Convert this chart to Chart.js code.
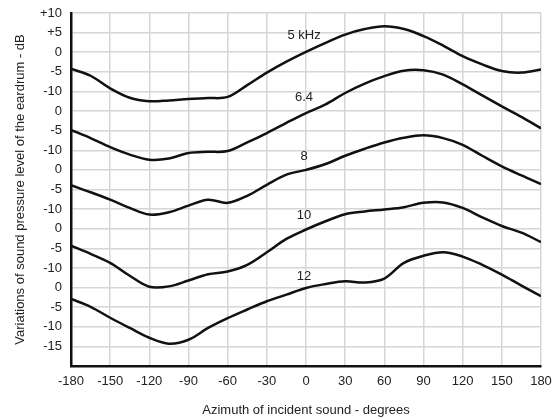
<!DOCTYPE html>
<html>
<head>
<meta charset="utf-8">
<script src="https://cdn.jsdelivr.net/npm/chart.js@4/dist/chart.umd.min.js"></script>
<style>
  html, body { margin: 0; padding: 0; background: #fff; }
  #c { display: block; }
</style>
</head>
<body>
<canvas id="c" width="553" height="419"></canvas>
<script>
// Azimuth of incident sound (degrees)
const azimuth = [-180,-165,-150,-135,-120,-105,-90,-75,-60,-45,-30,-15,0,15,30,45,60,75,90,105,120,135,150,165,180];

// Variation of sound pressure level (dB) for each frequency
const khz5  = [-4.2,-6.0,-9.2,-11.6,-12.5,-12.3,-11.9,-11.7,-11.4,-8.4,-5.2,-2.4,0.1,2.4,4.5,5.9,6.6,5.9,4.1,1.7,-1.0,-3.1,-4.8,-5.2,-4.4];
const khz64 = [-4.8,-6.9,-9.2,-11.1,-12.4,-12.1,-10.7,-10.4,-10.2,-8.0,-5.6,-3.0,-0.5,1.7,4.6,7.0,8.9,10.3,10.4,9.3,6.8,4.0,1.2,-1.5,-4.4];
const khz8  = [-3.9,-5.7,-7.6,-9.7,-11.4,-10.8,-9.1,-7.6,-8.4,-6.6,-3.8,-1.2,0.0,1.5,3.6,5.4,7.0,8.2,8.8,8.1,6.4,3.6,0.9,-1.4,-3.6];
const khz10 = [-4.3,-6.4,-8.7,-12.0,-14.8,-14.7,-13.2,-11.6,-10.9,-9.2,-6.0,-2.6,-0.2,1.9,3.7,4.4,4.9,5.5,6.6,6.7,5.3,2.9,0.7,-1.0,-3.4];
const khz12 = [-2.9,-4.9,-7.7,-10.3,-12.8,-14.3,-13.3,-10.3,-7.8,-5.6,-3.5,-1.8,-0.1,0.9,1.6,1.3,2.3,6.3,8.1,9.0,7.9,5.8,3.3,0.5,-2.2];

const seriesValues = [khz5, khz64, khz8, khz10, khz12];
const seriesNames  = ['5 kHz', '6.4', '8', '10', '12'];
// each curve is shifted down by this many dB on the shared axis
const seriesOffsets = [0, -15, -30, -45, -60];
// curve label position (azimuth, dB relative to own curve zero)
const labelAzimuth = [-1.5, -1.5, -1.5, -1.5, -1.5];
const labelDb      = [4.2, 3.6, 3.5, 3.4, 2.9];

// y tick labels from top (+10) to bottom
const yTickLabels = ['+10','+5','0','-5','-10','0','-5','-10','0','-5','-10','0','-5','-10','0','-5','-10','-15',''];
const xTicks = [-180,-150,-120,-90,-60,-30,0,30,60,90,120,150,180];

const FONT = '"Liberation Sans", Arial, Helvetica, sans-serif';
const TEXT = '#222';

const datasets = seriesValues.map((vals, k) => ({
  label: seriesNames[k],
  data: vals.map((v, i) => ({ x: azimuth[i], y: v + seriesOffsets[k] })),
  borderColor: '#111',
  borderWidth: 2.5,
  pointRadius: 0,
  fill: false,
  tension: 0.35
}));

const curveLabels = {
  id: 'curveLabels',
  afterDatasetsDraw(chart) {
    const { ctx, scales: { x, y } } = chart;
    ctx.save();
    ctx.font = '13px ' + FONT;
    ctx.fillStyle = TEXT;
    ctx.textAlign = 'center';
    ctx.textBaseline = 'middle';
    seriesNames.forEach((name, k) => {
      ctx.fillText(name, x.getPixelForValue(labelAzimuth[k]), y.getPixelForValue(labelDb[k] + seriesOffsets[k]));
    });
    ctx.restore();
  }
};

new Chart(document.getElementById('c'), {
  type: 'line',
  data: { datasets },
  plugins: [curveLabels],
  options: {
    responsive: false,
    animation: false,
    devicePixelRatio: 1,
    layout: { padding: { top: 13, right: 12, bottom: 0, left: 0 } },
    plugins: { legend: { display: false }, tooltip: { enabled: false } },
    scales: {
      x: {
        type: 'linear',
        min: -180, max: 180,
        afterBuildTicks(scale) { scale.ticks = xTicks.map(v => ({ value: v })); },
        afterFit(scale) { scale.height = 53; scale.paddingLeft = 0; scale.paddingRight = 0; },
        ticks: { autoSkip: false, maxRotation: 0, padding: 8, color: TEXT, font: { family: FONT, size: 13 } },
        grid: { color: '#d6d6d6', lineWidth: 1.5, drawTicks: false },
        border: { color: '#111', width: 2.5 },
        title: { display: true, text: 'Azimuth of incident sound - degrees', color: TEXT, font: { family: FONT, size: 13 }, padding: { top: 0, bottom: 1 } }
      },
      y: {
        type: 'linear',
        min: -80, max: 10,
        afterFit(scale) { scale.width = 71; scale.paddingTop = 0; scale.paddingBottom = 0; },
        ticks: {
          stepSize: 5, autoSkip: false, padding: 9, color: TEXT, font: { family: FONT, size: 13 },
          callback: (v) => { const i = Math.round((10 - v) / 5); return yTickLabels[i] ?? ''; }
        },
        grid: { color: '#d6d6d6', lineWidth: 1.5, drawTicks: false },
        border: { color: '#111', width: 2.5 },
        title: { display: true, text: 'Variations of sound pressure level of the eardrum - dB', color: TEXT, font: { family: FONT, size: 13 }, padding: { top: 12.5, bottom: 0 } }
      }
    }
  }
});
</script>
</body>
</html>
